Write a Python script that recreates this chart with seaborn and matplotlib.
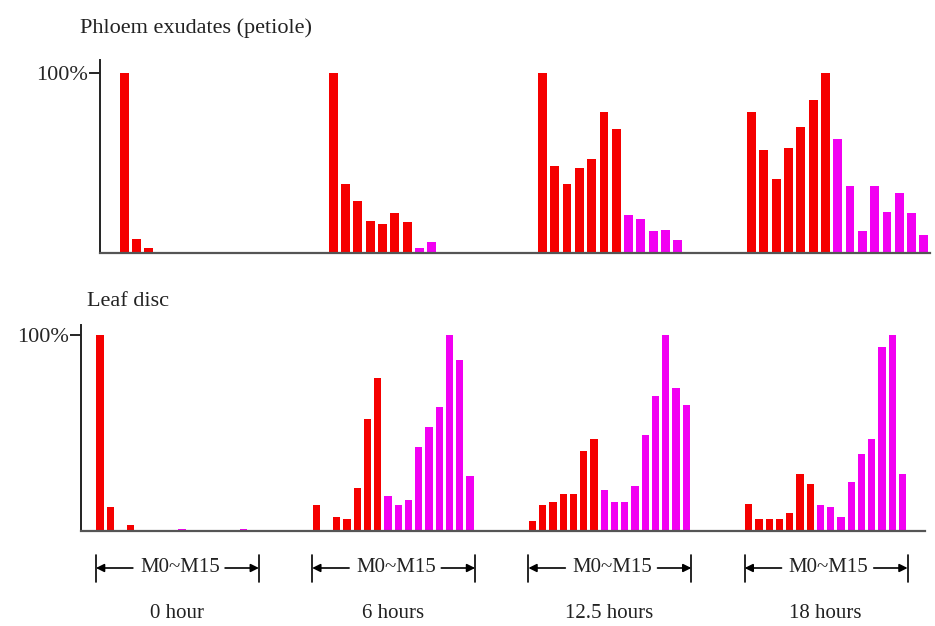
import pandas as pd
import matplotlib.pyplot as plt
import seaborn as sns
from matplotlib.transforms import blended_transform_factory

# Estilo
sns.set_style("white")
plt.rcParams['font.family'] = ['Liberation Serif', 'DejaVu Serif']

# Dados (% relativo, M0..M15 em cada tempo)
tempos = ['0 hour', '6 hours', '12.5 hours', '18 hours']
metabolitos = [f'M{i}' for i in range(16)]

phloem_0h = [100, 8, 3, 0, 0, 0, 0, 0, 0, 0, 0, 0, 0, 0, 0, 0]
phloem_6h = [100, 38, 29, 18, 16, 22, 17, 3, 6, 0, 0, 0, 0, 0, 0, 0]
phloem_12h = [100, 48, 38, 47, 52, 78, 69, 21, 19, 12, 13, 7, 0, 0, 0, 0]
phloem_18h = [78, 57, 41, 58, 70, 85, 100, 63, 37, 12, 37, 23, 33, 22, 10, 0]

leaf_0h = [100, 12, 0, 3, 0, 0, 0, 0, 1, 0, 0, 0, 0, 0, 1, 0]
leaf_6h = [13, 0, 7, 6, 22, 57, 78, 18, 13, 16, 43, 53, 63, 100, 87, 28]
leaf_12h = [5, 13, 15, 19, 19, 41, 47, 21, 15, 15, 23, 49, 69, 100, 73, 64]
leaf_18h = [14, 6, 6, 6, 9, 29, 24, 13, 12, 7, 25, 39, 47, 94, 100, 29]

cores = {'M0-M6': '#f50000', 'M7-M15': '#f200f2'}


def monta_df(series, offset):
    rows = []
    for g, vals in enumerate(series):
        for i, v in enumerate(vals):
            rows.append({'x': g * offset + i, 'valor': v,
                         'grupo': 'M0-M6' if i < 7 else 'M7-M15'})
    return pd.DataFrame(rows)


off_top = 17.0
off_bot = 21.1
df_top = monta_df([phloem_0h, phloem_6h, phloem_12h, phloem_18h], off_top)
df_bot = monta_df([leaf_0h, leaf_6h, leaf_12h, leaf_18h], off_bot)

W, H = 935, 626
fig = plt.figure(figsize=(W / 100, H / 100), dpi=100)
ax1 = fig.add_axes([100 / W, 1 - 253 / H, 830 / W, 193 / H])
ax2 = fig.add_axes([81 / W, 1 - 531 / H, 844 / W, 206 / H])

sns.barplot(data=df_top, x='x', y='valor', hue='grupo', palette=cores,
            native_scale=True, dodge=False, errorbar=None, width=0.72,
            linewidth=0, saturation=1, legend=False, ax=ax1)
sns.barplot(data=df_bot, x='x', y='valor', hue='grupo', palette=cores,
            native_scale=True, dodge=False, errorbar=None, width=0.7,
            linewidth=0, saturation=1, legend=False, ax=ax2)

ax1.set_xlim(-1.96, 65.5)
ax1.set_ylim(0, 107)
ax2.set_xlim(-1.86, 80.5)
ax2.set_ylim(0, 105)

for ax in (ax1, ax2):
    ax.set_xlabel('')
    ax.set_ylabel('')
    ax.set_xticks([])
    ax.set_yticks([100])
    ax.set_yticklabels(['100%'], fontsize=16)
    ax.tick_params(axis='y', direction='out', length=8, width=1.2,
                   color='black', pad=1, left=True)
    for s in ('top', 'right'):
        ax.spines[s].set_visible(False)
    ax.spines['left'].set_color('#222222')
    ax.spines['left'].set_linewidth(1.4)
    ax.spines['bottom'].set_color('#555555')
    ax.spines['bottom'].set_linewidth(1.6)
    ax.patch.set_alpha(0)

# Títulos dos painéis
fig.text(80 / W, 1 - 28 / H, 'Phloem exudates (petiole)', fontsize=16,
         ha='left', va='center', color='#222222')
fig.text(87 / W, 1 - 301 / H, 'Leaf disc', fontsize=16,
         ha='left', va='center', color='#222222')

# Setas M0~M15 e rótulos de tempo
trans = blended_transform_factory(ax2.transData, fig.transFigure)
ya = 1 - 568 / H
for g, nome in enumerate(tempos):
    x0 = g * off_bot - 0.4
    x1 = g * off_bot + 15.5
    for xv in (x0, x1):
        ax2.plot([xv, xv], [1 - 582 / H, 1 - 555 / H], color='black',
                 lw=1.2, transform=trans, clip_on=False)
    ax2.annotate('', xy=(x0, ya), xytext=(x0 + 3.6, ya), xycoords=trans,
                 textcoords=trans,
                 arrowprops=dict(arrowstyle='-|>', color='black', lw=1.2,
                                 shrinkA=0, shrinkB=0, mutation_scale=12))
    ax2.annotate('', xy=(x1, ya), xytext=(x0 + 12.6, ya), xycoords=trans,
                 textcoords=trans,
                 arrowprops=dict(arrowstyle='-|>', color='black', lw=1.2,
                                 shrinkA=0, shrinkB=0, mutation_scale=12))
    ax2.text(x0 + 8.2, ya, 'M0~M15', transform=trans, fontsize=15,
             ha='center', va='center', color='#222222')
    ax2.text(g * off_bot + 7.5, 1 - 613 / H, nome, transform=trans,
             fontsize=15, ha='center', va='center', color='#222222')

fig.savefig('out.png', dpi=100)
